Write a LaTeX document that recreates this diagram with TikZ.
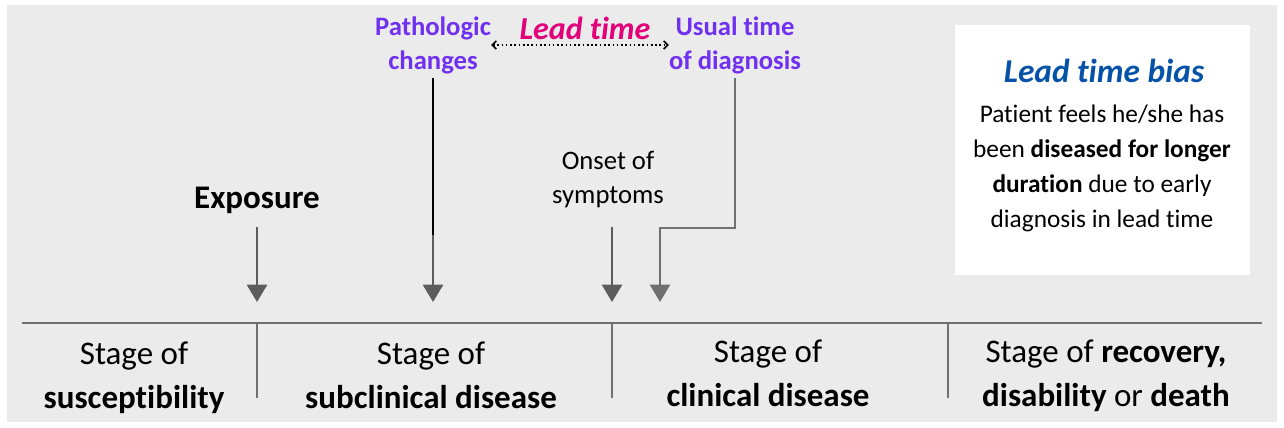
\documentclass[tikz,border=0pt]{standalone}
\usepackage{fontspec}
\setmainfont{Carlito}[RawFeature={-liga;-calt}]
\usetikzlibrary{positioning,arrows.meta,calc}

\definecolor{panelgray}{RGB}{235,235,235}
\definecolor{linegray}{RGB}{112,112,112}
\definecolor{arrowgray}{RGB}{92,92,92}
\definecolor{labelpurple}{RGB}{112,48,240}
\definecolor{leadpink}{RGB}{226,0,122}
\definecolor{biasblue}{RGB}{6,82,168}

\begin{document}
\begin{tikzpicture}[
    x=0.75pt, y=-0.75pt,
    >=Stealth,
    stage/.style={align=center, inner sep=0pt, font=\fontsize{24.75}{33}\selectfont},
    event/.style={align=center, inner sep=0pt, font=\fontsize{20}{25.5}\selectfont},
    marker/.style={event, text=labelpurple, font=\bfseries\fontsize{20}{25.5}\selectfont},
    down/.style={draw=arrowgray, line width=2pt, -{Triangle[width=15pt, length=13pt]}},
    divider/.style={draw=linegray, line width=1.5pt}
]
\useasboundingbox (0,0) rectangle (1284,428);
\fill[panelgray] (7,5) rectangle (1277,422);

% tips of the arrows, just above the time axis
\coordinate (t1) at (257,302);
\coordinate (t2) at (433,302);
\coordinate (t3) at (612,302);
\coordinate (t4) at (660,302);
\coordinate (knee) at (660,228);
\coordinate (pathomid) at (433,235);
\coordinate (axisl) at (22,323);
\coordinate (axisr) at (1262,323);

% labels above the axis
\node[stage, font=\bfseries\fontsize{24.75}{33}\selectfont] (expo) at (257,200) {Exposure};
\node[marker] (patho) at (433,45) {Pathologic\\changes};
\node[marker] (usual) at (735,45) {Usual time\\of diagnosis};
\node[inner sep=0pt, text=leadpink, font=\bfseries\itshape\fontsize{24}{30}\selectfont] (lead) at (585,28) {Lead time};
\node[event] (onset) at (608,180) {Onset of\\symptoms};

% lead time bias box
\node[fill=white, minimum width=221.25pt, minimum height=187.5pt, inner sep=0pt] (bias) at (1102.5,150) {};
\node[inner sep=0pt, text=biasblue, font=\bfseries\itshape\fontsize{25}{30}\selectfont] (biastitle) at (1104,71) {Lead time bias};
\node[event, font=\fontsize{19}{26.25}\selectfont] (biastext) at (1102,168)
    {Patient feels he/she has\\been \textbf{diseased for longer}\\\textbf{duration} due to early\\diagnosis in lead time};

% time axis and stages
\draw[divider] (axisl) -- (axisr);
\draw[divider] (t1 |- axisl) -- ++(0,75);
\draw[divider] (t3 |- axisl) -- ++(0,75);
\draw[divider] (948,323) -- ++(0,75);

\node[stage] (susc) at (134,378) {Stage of\\\textbf{susceptibility}};
\node[stage] (subclin) at (431,375) {Stage of\\\textbf{subclinical disease}};
\node[stage] (clin) at (768,373) {Stage of\\\textbf{clinical disease}};
\node[stage] (recov) at (1106,376) {Stage of \textbf{recovery,}\\\textbf{disability} or \textbf{death}};

% arrows
\draw[down, shorten <=10pt] (expo) -- (t1);
\draw[line width=1.5pt, black, shorten <=3pt] (patho) -- (pathomid);
\draw[down] (pathomid) -- (t2);
\draw[down, shorten <=14pt] (t3 |- onset.south) -- (t3);
\draw[down, draw=linegray, line width=1.8pt, shorten <=3pt] (usual) |- (knee) -- (t4);
\draw[{Straight Barb[length=3pt]}-{Straight Barb[length=3pt]}, dotted, line width=1.2pt] (patho.east) -- (usual.west);
\end{tikzpicture}
\end{document}
